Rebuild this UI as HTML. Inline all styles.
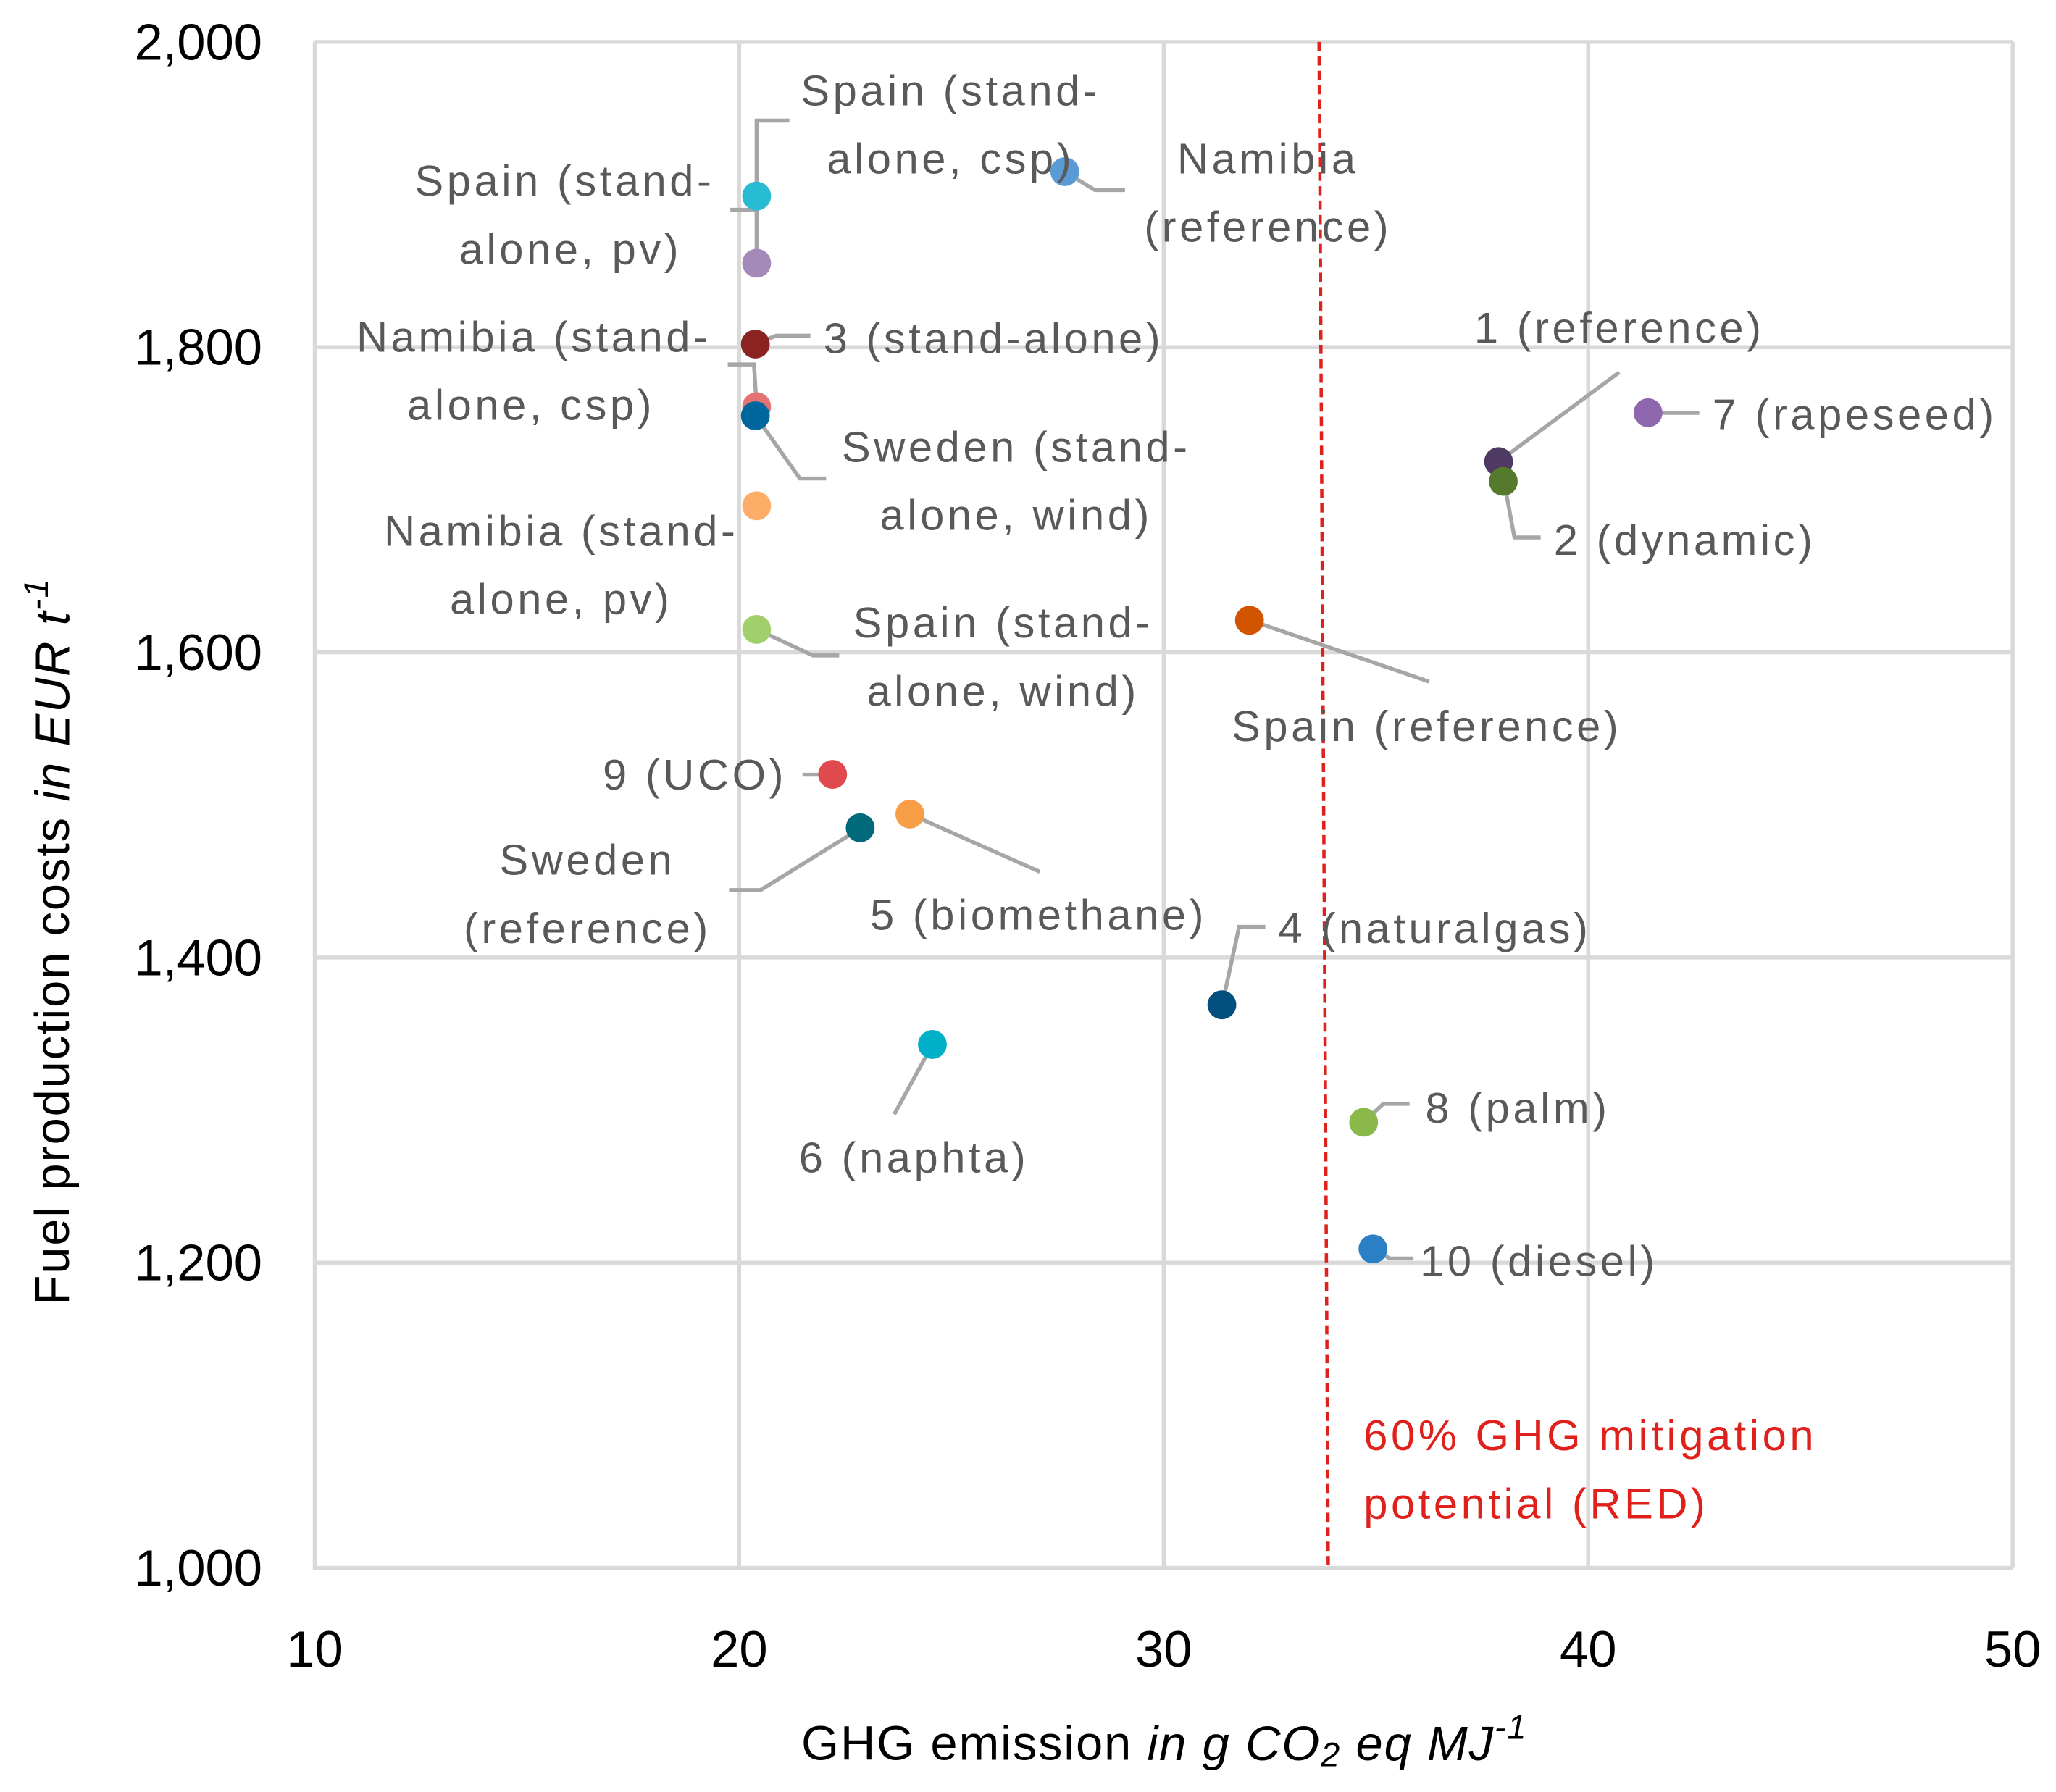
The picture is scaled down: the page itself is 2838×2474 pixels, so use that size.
<!DOCTYPE html>
<html><head><meta charset="utf-8"><style>
html,body{margin:0;padding:0;background:#fff;}
svg{display:block;}
text{font-family:"Liberation Sans",sans-serif;}
.lbl{fill:#595959;font-size:33px;letter-spacing:2.5px;}
.tick{fill:#000;font-size:39px;}
</style></head><body>
<svg id="chart" width="2838" height="2474" viewBox="0 0 1568 1367" xmlns="http://www.w3.org/2000/svg">
<g id="grid"></g>
<g id="axes"></g>
<line x1="1006" y1="32" x2="1013" y2="1196" stroke="#e0201b" stroke-width="2.5" stroke-dasharray="7,4"/>
<g id="leaders"></g>
<g id="points"></g>
<g id="labels"></g>
<text x="1040" y="1095" dominant-baseline="central" style="fill:#e0201b;font-size:33px;letter-spacing:2.5px">60% GHG mitigation</text>
<text x="1040" y="1147" dominant-baseline="central" style="fill:#e0201b;font-size:33px;letter-spacing:2.5px">potential (RED)</text>
<text x="888" y="1330" text-anchor="middle" dominant-baseline="central" style="font-size:37px;fill:#000;letter-spacing:1px">GHG emission <tspan font-style="italic">in g CO<tspan font-size="26" dy="8">2</tspan><tspan dy="-8"> eq MJ</tspan><tspan font-size="26" dy="-13">-1</tspan></tspan></text>
<text transform="translate(40,718) rotate(-90)" text-anchor="middle" dominant-baseline="central" style="font-size:37px;fill:#000;letter-spacing:1px">Fuel production costs <tspan font-style="italic">in EUR  t</tspan><tspan font-style="italic" font-size="26" dy="-13">-1</tspan></text>
</svg>
<script>
const xTicks=[10,20,30,40,50];
const yTicks=[1000,1200,1400,1600,1800,2000];
const yTickLabels=["1,000","1,200","1,400","1,600","1,800","2,000"];
const pointNames=["spain-standalone-pv","spain-standalone-csp","namibia-standalone-csp","namibia-standalone-pv","sweden-standalone-wind","namibia-standalone-pv-2","spain-standalone-wind","namibia-reference","1-reference","2-dynamic","7-rapeseed","spain-reference","9-uco","sweden-reference","5-biomethane","4-naturalgas","6-naphta","8-palm","10-diesel"];
const xValues=[20.41,20.41,20.38,20.41,20.38,20.41,20.41,27.67,37.89,38.0,41.41,32.02,22.2,22.85,24.02,31.37,24.55,34.71,34.93];
const yValues=[1899,1855,1802,1761,1755,1696,1615,1915,1725,1712,1757,1621,1520,1485,1494,1369,1343,1292,1209];
const colors=["#27bcd1","#a48ab9","#8b2323","#e57373","#00679e","#fcae69","#a1cf6b","#5b9bd5","#4f3a63","#567a2b","#8f67ae","#d35400","#e04a4f","#006a7a","#f89e47","#004f7c","#00b0c8","#8ab84a","#2b7fc5"];
const X=v=>240+(v-10)*(1535-240)/40;
const Y=v=>1196-(v-1000)*(1196-32)/1000;
const NS="http://www.w3.org/2000/svg";
function mk(tag,attrs,parent){const e=document.createElementNS(NS,tag);for(const k in attrs)e.setAttribute(k,attrs[k]);parent.appendChild(e);return e;}
const grid=document.getElementById('grid'),axes=document.getElementById('axes');
xTicks.forEach((t,i)=>{
 if(i>0){const l=mk('line',{x1:X(t),x2:X(t),y1:Y(2000),y2:Y(1000),stroke:'#d9d9d9','stroke-width':3},grid);
 
 }
 const tx=mk('text',{x:X(t),y:1258,'text-anchor':'middle','dominant-baseline':'central',class:'tick'},axes);
 tx.textContent=t;
 
 
});
yTicks.forEach((t,i)=>{
 if(i>0){const l=mk('line',{x1:X(10),x2:X(50),y1:Y(t),y2:Y(t),stroke:'#d9d9d9','stroke-width':3},grid);
 
 }
 const tx=mk('text',{x:200,y:Y(t),'text-anchor':'end','dominant-baseline':'central',class:'tick'},axes);
 tx.textContent=yTickLabels[i];
 
 
});
const ax=mk('path',{d:`M${X(10)},${Y(2000)}V${Y(1000)}H${X(50)}`,fill:'none',stroke:'#d9d9d9','stroke-width':3},axes);


const leaders=[
 [[577,149],[577,92],[602,92]],
 [[557,160],[577,160],[577,201]],
 [[555,278],[575,278],[577,310]],
 [[577,262],[592,256],[618,256]],
 [[576,317],[610,365],[630,365]],
 [[577,480],[620,500],[640,500]],
 [[812,131],[835,145],[858,145]],
 [[1143,352],[1235,284]],
 [[1147,367],[1155,410],[1175,410]],
 [[1257,315],[1296,315]],
 [[953,473],[1090,520]],
 [[612,591],[635,591]],
 [[556,679],[580,679],[656,632]],
 [[694,621],[793,665]],
 [[932,767],[945,707],[965,707]],
 [[711,797],[682,850]],
 [[1040,856],[1055,842],[1075,842]],
 [[1047,953],[1060,960],[1078,960]]
];
const lg=document.getElementById('leaders');
leaders.forEach(p=>{const l=mk('polyline',{points:p.map(q=>q.join(',')).join(' '),fill:'none',stroke:'#a6a6a6','stroke-width':3},lg);
 
 });
const pg=document.getElementById('points');
xValues.forEach((v,i)=>{const c=mk('circle',{cx:X(v),cy:Y(yValues[i]),r:11,fill:colors[i]},pg);
 
 });
const labels=[
 ["Spain (stand-",725,69,"middle"],["alone, csp)",725,121,"middle"],
 ["Spain (stand-",545,138,"end"],["alone, pv)",520,190,"end"],
 ["Namibia (stand-",407,257,"middle"],["alone, csp)",405,309,"middle"],
 ["3 (stand-alone)",628,258,"start"],
 ["Sweden (stand-",775,341,"middle"],["alone, wind)",775,393,"middle"],
 ["Namibia (stand-",428,405,"middle"],["alone, pv)",428,457,"middle"],
 ["Spain (stand-",765,475,"middle"],["alone, wind)",765,527,"middle"],
 ["Namibia",967,121,"middle"],["(reference)",967,173,"middle"],
 ["1 (reference)",1235,250,"middle"],["7 (rapeseed)",1306,316,"start"],
 ["2 (dynamic)",1185,412,"start"],["Spain (reference)",1088,554,"middle"],
 ["9 (UCO)",600,591,"end"],["Sweden",448,656,"middle"],["(reference)",448,708,"middle"],
 ["5 (biomethane)",792,698,"middle"],["4 (naturalgas)",975,708,"start"],
 ["6 (naphta)",697,883,"middle"],["8 (palm)",1087,845,"start"],["10 (diesel)",1083,962,"start"]
];
const lb=document.getElementById('labels');
labels.forEach(a=>{const t=mk('text',{x:a[1],y:a[2],'text-anchor':a[3],'dominant-baseline':'central',class:'lbl'},lb);
 t.textContent=a[0];
 
 });
</script>
</body></html>
